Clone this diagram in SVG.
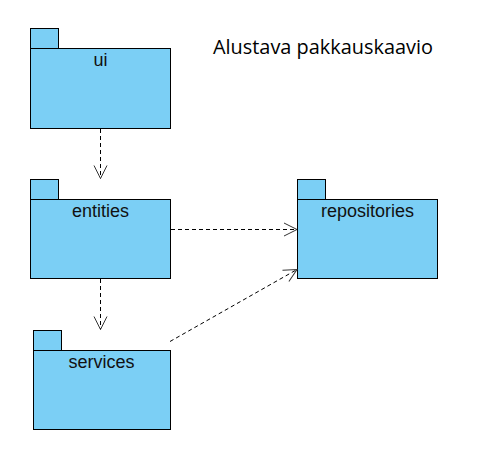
<svg xmlns="http://www.w3.org/2000/svg" width="500" height="465" viewBox="0 0 500 465">
<defs>
<style>
.pkg rect{fill:#7BCFF5;stroke:#000;stroke-width:1}
.lbl{font-family:"Liberation Sans",Arial,sans-serif;font-size:18px;fill:#111;text-anchor:middle}
.title{font-family:"Open Sans",sans-serif;font-size:19.9px;fill:#000}
.dep{fill:none;stroke:#000;stroke-width:1;stroke-dasharray:4 3}
</style>
<marker id="open" markerUnits="userSpaceOnUse" markerWidth="20" markerHeight="20" refX="0" refY="0" viewBox="-15 -10 20 20" orient="auto" overflow="visible">
<path d="M-13,-6.5 L0,0 L-13,6.5" fill="none" stroke="#333" stroke-width="1"/>
</marker>
</defs>
<rect width="500" height="465" fill="#fff"/>
<text class="title" x="213" y="53.5">Alustava pakkauskaavio</text>
<g id="ui" class="pkg">
<rect x="30.5" y="28.5" width="28" height="20"/>
<rect x="30.5" y="48.5" width="140" height="80"/>
<text class="lbl" x="100.5" y="66">ui</text>
</g>
<g id="entities" class="pkg">
<rect x="30.5" y="179.5" width="28" height="20"/>
<rect x="30.5" y="199.5" width="140" height="79"/>
<text class="lbl" x="100.5" y="217">entities</text>
</g>
<g id="repositories" class="pkg">
<rect x="297.5" y="179.5" width="28" height="20"/>
<rect x="297.5" y="199.5" width="140" height="79"/>
<text class="lbl" x="367.5" y="217">repositories</text>
</g>
<g id="services" class="pkg">
<rect x="33.5" y="330.5" width="28" height="20"/>
<rect x="33.5" y="350.5" width="137" height="79"/>
<text class="lbl" x="101.5" y="368">services</text>
</g>
<g id="connectors">
<line class="dep" x1="100.5" y1="129" x2="100.5" y2="178.5" marker-end="url(#open)"/>
<line class="dep" x1="100.5" y1="279" x2="100.5" y2="329.5" marker-end="url(#open)"/>
<line class="dep" x1="171" y1="229.5" x2="297" y2="229.5" marker-end="url(#open)"/>
<line class="dep" x1="170" y1="341.5" x2="297" y2="269.5" marker-end="url(#open)"/>
</g>
</svg>
